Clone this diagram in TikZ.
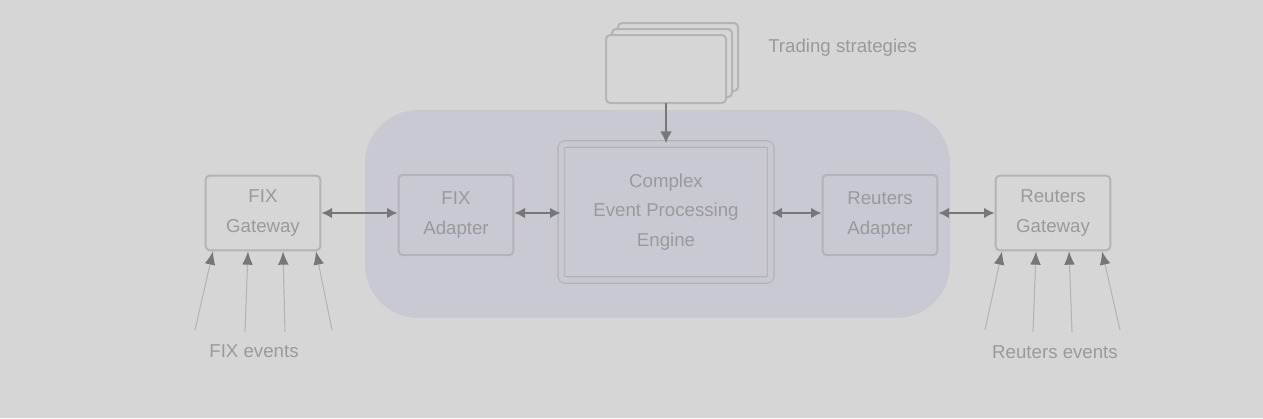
\documentclass[tikz,border=0pt]{standalone}
\usepackage{fontspec}
\setmainfont{Liberation Sans}
\usetikzlibrary{arrows.meta}
\definecolor{bgc}{HTML}{D6D6D6}
\definecolor{regc}{HTML}{C9C9D4}
\definecolor{linec}{HTML}{B4B4B4}
\definecolor{arrc}{HTML}{777777}
\definecolor{txtc}{HTML}{9A9A9A}
\tikzset{
  box/.style={draw=linec, line width=1.5pt, rounded corners=3pt, align=center, text=txtc, font=\fontsize{14}{22}\selectfont, inner sep=0pt},
  conn/.style={draw=arrc, line width=1.8pt, {Latex[length=8pt,width=8pt]}-{Latex[length=8pt,width=8pt]}},
  evt/.style={draw=linec, line width=0.8pt, -{Latex[length=10pt,width=8pt,color=arrc]}},
  lbl/.style={text=txtc, font=\fontsize{14}{17}\selectfont, inner sep=0pt}
}
\begin{document}
\begin{tikzpicture}[x=0.75pt,y=-0.75pt]
\useasboundingbox (0,0) rectangle (1263,418);
\fill[bgc] (0,0) rectangle (1263,418);
\fill[regc, rounded corners=40pt] (365,110) rectangle (950,318);
% stack
\foreach \d in {12,6,0}{
  \draw[draw=linec, line width=1.5pt, fill=bgc, rounded corners=3pt] (606+\d,35-\d) rectangle (726+\d,103-\d);
}
\node (stack) [minimum width=90pt, minimum height=51pt, inner sep=0pt] at (666,69) {};
\node[lbl, anchor=west] (ts) at (768,48) {Trading strategies};
% boxes
\node[box, minimum width=86pt, minimum height=56pt] (fixgw) at (263,213) {FIX\\Gateway};
\node[box, minimum width=86pt, minimum height=60pt] (fixad) at (456,215) {FIX\\Adapter};
\node[box, minimum width=157pt, minimum height=102pt, double=regc, double distance=4pt, line width=0.9pt] (cep) at (666,212) {Complex\\Event Processing\\Engine};
\node[box, minimum width=86pt, minimum height=60pt] (rad) at (880,215) {Reuters\\Adapter};
\node[box, minimum width=86pt, minimum height=56pt] (rgw) at (1053,213) {Reuters\\Gateway};
% connectors
\draw[conn] (fixgw.east |- 0,213) -- (fixad.west |- 0,213);
\draw[conn] (fixad.east |- 0,213) -- (cep.west |- 0,213);
\draw[conn] (cep.east |- 0,213) -- (rad.west |- 0,213);
\draw[conn] (rad.east |- 0,213) -- (rgw.west |- 0,213);
\draw[draw=arrc, line width=1.8pt, -{Latex[length=9pt,width=9pt]}] (stack.south) -- (cep.north);
% events
\coordinate (f1) at (195,330); \coordinate (f2) at (245,332); \coordinate (f3) at (285,332); \coordinate (f4) at (332,330);
\draw[evt] (f1) -- (213,0 |- fixgw.south);
\draw[evt] (f2) -- (248,0 |- fixgw.south);
\draw[evt] (f3) -- (283,0 |- fixgw.south);
\draw[evt] (f4) -- (316,0 |- fixgw.south);
\node[lbl] (fixev) at (254,351) {FIX events};
\coordinate (r1) at (985,330); \coordinate (r2) at (1033,332); \coordinate (r3) at (1072,332); \coordinate (r4) at (1120,330);
\draw[evt] (r1) -- (1002,0 |- rgw.south);
\draw[evt] (r2) -- (1036,0 |- rgw.south);
\draw[evt] (r3) -- (1069,0 |- rgw.south);
\draw[evt] (r4) -- (1102,0 |- rgw.south);
\node[lbl] (rev) at (1055,352) {Reuters events};
\end{tikzpicture}
\end{document}
